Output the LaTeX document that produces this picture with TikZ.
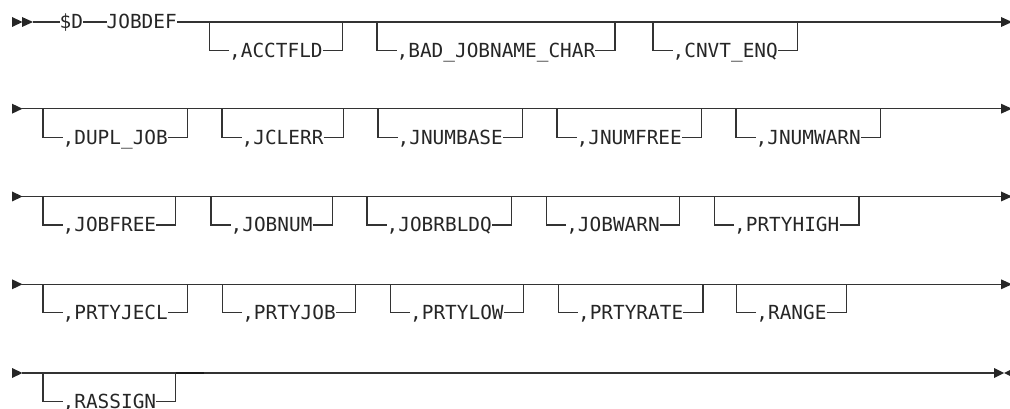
\documentclass[tikz,border=0pt]{standalone}
\usepackage{fontspec}
\newfontfamily\rrfont{DejaVu Sans Mono}
\newcommand\rropt[4]{%
  \node[opt,anchor=west] (#1) at (#2+19.5,#3+28.5) {#4};
  \draw[ln] (#1.west) -- ++(-19.5,0) -- ++(0,-28.5);
  \draw[ln] (#1.east) -- ++(19.5,0) -- ++(0,-28.5);
}
\begin{document}
\begin{tikzpicture}[x=1pt,y=-1pt,
  ln/.style={line width=1.2pt, draw=black!80},
  opt/.style={font=\rrfont\fontsize{19.4}{20}\selectfont, inner sep=0pt,
              text height=14pt, text depth=0pt, text=black!85},
  tri/.style={fill=black!85}]
\useasboundingbox (0,0) rectangle (1010,409);

% ---------- row 1 ----------
\fill[tri] (12,17) -- (22.5,22) -- (12,27) -- cycle;
\fill[tri] (22,17) -- (33,22) -- (22,27) -- cycle;
\coordinate (s1) at (33,22);
\coordinate (e1) at (1002,22);
\node[opt,anchor=west] (dd) at (59.5,22) {\$D};
\node[opt,anchor=west] (jobdef) at (106.5,22) {JOBDEF};
\draw[ln] (s1) -- (dd.west);
\draw[ln] (dd.east) -- (jobdef.west);
\draw[ln] (jobdef.east) -- (e1);
\fill[tri] (1001,17) -- (1012,22) -- (1001,27) -- cycle;
\rropt{acctfld}{209.5}{22}{,ACCTFLD}
\rropt{badjob}{377}{22}{,BAD\_JOBNAME\_CHAR}
\rropt{cnvt}{653}{22}{,CNVT\_ENQ}

% ---------- row 2 ----------
\fill[tri] (12,103.7) -- (22.5,108.7) -- (12,113.7) -- cycle;
\coordinate (s2) at (22,108.7);
\coordinate (e2) at (1002,108.7);
\draw[ln] (s2) -- (e2);
\fill[tri] (1001,103.7) -- (1012,108.7) -- (1001,113.7) -- cycle;
\rropt{dupl}{43}{108.7}{,DUPL\_JOB}
\rropt{jclerr}{222}{108.7}{,JCLERR}
\rropt{jnumbase}{378}{108.7}{,JNUMBASE}
\rropt{jnumfree}{557}{108.7}{,JNUMFREE}
\rropt{jnumwarn}{736}{108.7}{,JNUMWARN}

% ---------- row 3 ----------
\fill[tri] (12,191.5) -- (22.5,196.5) -- (12,201.5) -- cycle;
\coordinate (s3) at (22,196.5);
\coordinate (e3) at (1002,196.5);
\draw[ln] (s3) -- (e3);
\fill[tri] (1001,191.5) -- (1012,196.5) -- (1001,201.5) -- cycle;
\rropt{jobfree}{43}{196.5}{,JOBFREE}
\rropt{jobnum}{211}{196.5}{,JOBNUM}
\rropt{jobrbldq}{367}{196.5}{,JOBRBLDQ}
\rropt{jobwarn}{546.6}{196.5}{,JOBWARN}
\rropt{prtyhigh}{714.5}{196.5}{,PRTYHIGH}

% ---------- row 4 ----------
\fill[tri] (12,279.3) -- (22.5,284.3) -- (12,289.3) -- cycle;
\coordinate (s4) at (22,284.3);
\coordinate (e4) at (1002,284.3);
\draw[ln] (s4) -- (e4);
\fill[tri] (1001,279.3) -- (1012,284.3) -- (1001,289.3) -- cycle;
\rropt{prtyjecl}{43}{284.3}{,PRTYJECL}
\rropt{prtyjob}{222.6}{284.3}{,PRTYJOB}
\rropt{prtylow}{390.5}{284.3}{,PRTYLOW}
\rropt{prtyrate}{558.4}{284.3}{,PRTYRATE}
\rropt{range}{736.7}{284.3}{,RANGE}

% ---------- row 5 ----------
\fill[tri] (12,368) -- (22.5,373) -- (12,378) -- cycle;
\coordinate (s5) at (22,373);
\coordinate (e5) at (994,373);
\draw[ln] (s5) -- (e5);
\rropt{rassign}{43}{373}{,RASSIGN}
\coordinate (k5) at (204,373);
\path (rassign.east) ++(19.5,0) coordinate (rr);
\draw[line width=2pt, draw=black!90] (rr |- k5) -- (k5);
\fill[tri] (994,368) -- (1004,373) -- (994,378) -- cycle;
\fill[tri] (1014,368) -- (1004,373) -- (1014,378) -- cycle;
\end{tikzpicture}
\end{document}
